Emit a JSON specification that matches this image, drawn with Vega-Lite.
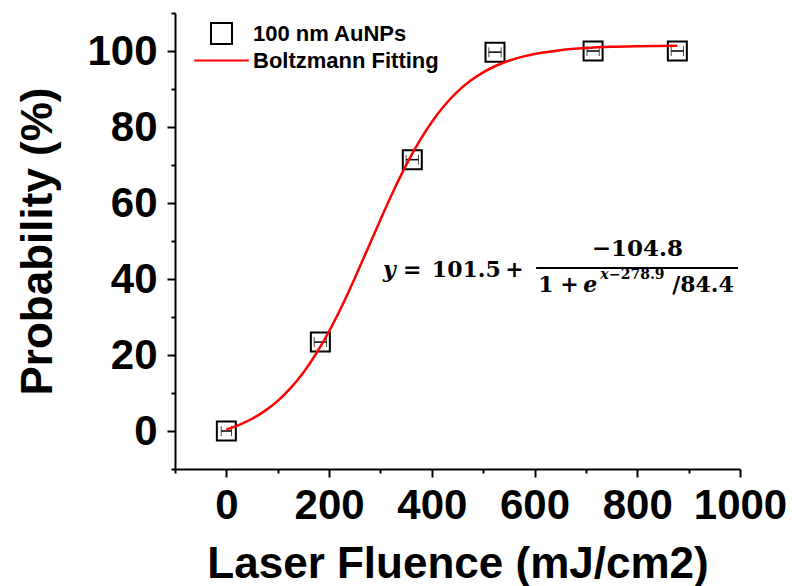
{
  "$schema": "https://vega.github.io/schema/vega-lite/v6.json",
  "width": 565,
  "height": 456,
  "autosize": {"type": "none"},
  "padding": {"left": 175, "top": 13, "right": 52, "bottom": 117},
  "background": "white",
  "config": {
    "view": {"stroke": null},
    "axis": {
      "grid": false,
      "domainColor": "black",
      "domainWidth": 2,
      "tickColor": "black",
      "tickWidth": 2,
      "labelFont": "Liberation Sans",
      "labelFontWeight": "bold",
      "labelFontSize": 42,
      "labelColor": "black",
      "titleFont": "Liberation Sans",
      "titleFontWeight": "bold",
      "titleFontSize": 44,
      "titleColor": "black",
      "labelOverlap": false,
      "labelFlush": false
    }
  },
  "datasets": {
    "pts": [
      {"x": 0, "y": 0, "xlo": -10, "xhi": 10, "series": "100 nm AuNPs"},
      {"x": 183, "y": 23.4, "xlo": 171, "xhi": 195, "series": "100 nm AuNPs"},
      {"x": 362, "y": 71.4, "xlo": 350, "xhi": 374, "series": "100 nm AuNPs"},
      {"x": 523, "y": 99.7, "xlo": 511, "xhi": 535, "series": "100 nm AuNPs"},
      {"x": 714, "y": 100, "xlo": 702, "xhi": 726, "series": "100 nm AuNPs"},
      {"x": 878, "y": 100, "xlo": 866, "xhi": 890, "series": "100 nm AuNPs"}
    ],
    "fit": [
      {"x": 0, "y": 0.41, "series": "Boltzmann Fitting"},
      {"x": 25, "y": 1.63, "series": "Boltzmann Fitting"},
      {"x": 50, "y": 3.22, "series": "Boltzmann Fitting"},
      {"x": 75, "y": 5.29, "series": "Boltzmann Fitting"},
      {"x": 100, "y": 7.93, "series": "Boltzmann Fitting"},
      {"x": 125, "y": 11.27, "series": "Boltzmann Fitting"},
      {"x": 150, "y": 15.4, "series": "Boltzmann Fitting"},
      {"x": 175, "y": 20.39, "series": "Boltzmann Fitting"},
      {"x": 200, "y": 26.25, "series": "Boltzmann Fitting"},
      {"x": 225, "y": 32.91, "series": "Boltzmann Fitting"},
      {"x": 250, "y": 40.22, "series": "Boltzmann Fitting"},
      {"x": 275, "y": 47.89, "series": "Boltzmann Fitting"},
      {"x": 300, "y": 55.62, "series": "Boltzmann Fitting"},
      {"x": 325, "y": 63.07, "series": "Boltzmann Fitting"},
      {"x": 350, "y": 69.95, "series": "Boltzmann Fitting"},
      {"x": 375, "y": 76.08, "series": "Boltzmann Fitting"},
      {"x": 400, "y": 81.34, "series": "Boltzmann Fitting"},
      {"x": 425, "y": 85.73, "series": "Boltzmann Fitting"},
      {"x": 450, "y": 89.31, "series": "Boltzmann Fitting"},
      {"x": 475, "y": 92.15, "series": "Boltzmann Fitting"},
      {"x": 500, "y": 94.39, "series": "Boltzmann Fitting"},
      {"x": 525, "y": 96.12, "series": "Boltzmann Fitting"},
      {"x": 550, "y": 97.44, "series": "Boltzmann Fitting"},
      {"x": 575, "y": 98.45, "series": "Boltzmann Fitting"},
      {"x": 600, "y": 99.22, "series": "Boltzmann Fitting"},
      {"x": 650, "y": 100.22, "series": "Boltzmann Fitting"},
      {"x": 700, "y": 100.79, "series": "Boltzmann Fitting"},
      {"x": 750, "y": 101.11, "series": "Boltzmann Fitting"},
      {"x": 800, "y": 101.28, "series": "Boltzmann Fitting"},
      {"x": 878, "y": 101.41, "series": "Boltzmann Fitting"}
    ],
    "eqUpright": [
      {"x": 344, "y": 40.5, "text": "="},
      {"x": 400, "y": 40.5, "text": "101.5"},
      {"x": 543, "y": 40.5, "text": "+"},
      {"x": 607, "y": 36.6, "text": "1"},
      {"x": 650, "y": 36.6, "text": "+"},
      {"x": 868, "y": 36.6, "text": "/84.4"}
    ],
    "eqNum": [
      {"x": 800, "y": 46.05, "text": "−104.8"}
    ],
    "eqItalic": [
      {"x": 305, "y": 40.5, "text": "y"},
      {"x": 695, "y": 36.6, "text": "e"}
    ],
    "supItalic": [
      {"x": 728, "y": 40.1, "text": "x"}
    ],
    "supUpright": [
      {"x": 745, "y": 40.1, "text": "−278.9"}
    ],
    "bar": [
      {"x": 603, "x2": 996, "y": 42.9}
    ]
  },
  "encoding": {
    "x": {
      "field": "x",
      "type": "quantitative",
      "title": "Laser Fluence (mJ/cm2)",
      "scale": {"domain": [-100, 1000], "nice": false, "zero": false},
      "axis": {
        "values": [-100, 0, 100, 200, 300, 400, 500, 600, 700, 800, 900, 1000],
        "format": "d",
        "labelExpr": "datum.value % 200 === 0 ? datum.label : ''",
        "tickSize": {"condition": {"test": "datum.value % 200 !== 0", "value": 4}, "value": 8},
        "labelPadding": 8,
        "titlePadding": 16
      }
    },
    "y": {
      "field": "y",
      "type": "quantitative",
      "title": "Probability (%)",
      "scale": {"domain": [-10, 110], "nice": false, "zero": false},
      "axis": {
        "values": [-10, 0, 10, 20, 30, 40, 50, 60, 70, 80, 90, 100, 110],
        "format": "d",
        "labelExpr": "datum.value % 20 === 0 ? datum.label : ''",
        "tickSize": {"condition": {"test": "datum.value % 20 !== 0", "value": 4}, "value": 8},
        "labelPadding": 10,
        "titlePadding": 26
      }
    }
  },
  "layer": [
    {
      "data": {"name": "pts"},
      "mark": {"type": "errorbar", "ticks": {"size": 10}, "rule": {"strokeWidth": 1.5}, "color": "black"},
      "encoding": {
        "x": {"field": "xlo", "type": "quantitative", "title": "Laser Fluence (mJ/cm2)"},
        "x2": {"field": "xhi"}
      }
    },
    {
      "data": {"name": "pts"},
      "mark": {"type": "point", "shape": "square", "filled": false, "size": 361, "strokeWidth": 2, "opacity": 1},
      "encoding": {
        "stroke": {
          "field": "series",
          "type": "nominal",
          "scale": {"domain": ["100 nm AuNPs", "Boltzmann Fitting"], "range": ["black", "#ff0000"]},
          "legend": {
            "title": null,
            "orient": "none",
            "legendX": 35,
            "legendY": 9,
            "labelFont": "Liberation Sans",
            "labelFontSize": 22,
            "labelFontWeight": "bold",
            "labelColor": "black",
            "labelLimit": 400,
            "symbolSize": 441,
            "symbolStrokeWidth": 2,
            "labelOffset": 20,
            "rowPadding": 1,
            "padding": 0
          }
        },
        "shape": {
          "field": "series",
          "type": "nominal",
          "scale": {"domain": ["100 nm AuNPs", "Boltzmann Fitting"], "range": ["square", "M-2.6,0H2.6"]},
          "legend": {
            "title": null,
            "orient": "none",
            "legendX": 35,
            "legendY": 9,
            "labelFont": "Liberation Sans",
            "labelFontSize": 22,
            "labelFontWeight": "bold",
            "labelColor": "black",
            "labelLimit": 400,
            "symbolSize": 441,
            "symbolStrokeWidth": 2,
            "labelOffset": 20,
            "rowPadding": 1,
            "padding": 0
          }
        }
      }
    },
    {
      "data": {"name": "fit"},
      "mark": {"type": "line", "strokeWidth": 2.5, "interpolate": "monotone"},
      "encoding": {
        "stroke": {"field": "series", "type": "nominal"},
        "order": {"field": "x", "type": "quantitative"}
      }
    },
    {
      "data": {"name": "bar"},
      "mark": {"type": "rule", "strokeWidth": 2, "color": "black"},
      "encoding": {"x2": {"field": "x2"}}
    },
    {
      "data": {"name": "eqUpright"},
      "mark": {"type": "text", "font": "DejaVu Serif", "fontWeight": "bold", "fontSize": 22, "align": "left", "baseline": "alphabetic", "color": "black"},
      "encoding": {"text": {"field": "text"}}
    },
    {
      "data": {"name": "eqNum"},
      "mark": {"type": "text", "font": "DejaVu Serif", "fontWeight": "bold", "fontSize": 23, "align": "center", "baseline": "alphabetic", "color": "black"},
      "encoding": {"text": {"field": "text"}}
    },
    {
      "data": {"name": "eqItalic"},
      "mark": {"type": "text", "font": "DejaVu Serif", "fontWeight": "bold", "fontStyle": "italic", "fontSize": 22, "align": "left", "baseline": "alphabetic", "color": "black"},
      "encoding": {"text": {"field": "text"}}
    },
    {
      "data": {"name": "supItalic"},
      "mark": {"type": "text", "font": "DejaVu Serif", "fontWeight": "bold", "fontStyle": "italic", "fontSize": 14, "align": "left", "baseline": "alphabetic", "color": "black"},
      "encoding": {"text": {"field": "text"}}
    },
    {
      "data": {"name": "supUpright"},
      "mark": {"type": "text", "font": "DejaVu Serif", "fontWeight": "bold", "fontSize": 14, "align": "left", "baseline": "alphabetic", "color": "black"},
      "encoding": {"text": {"field": "text"}}
    }
  ]
}
